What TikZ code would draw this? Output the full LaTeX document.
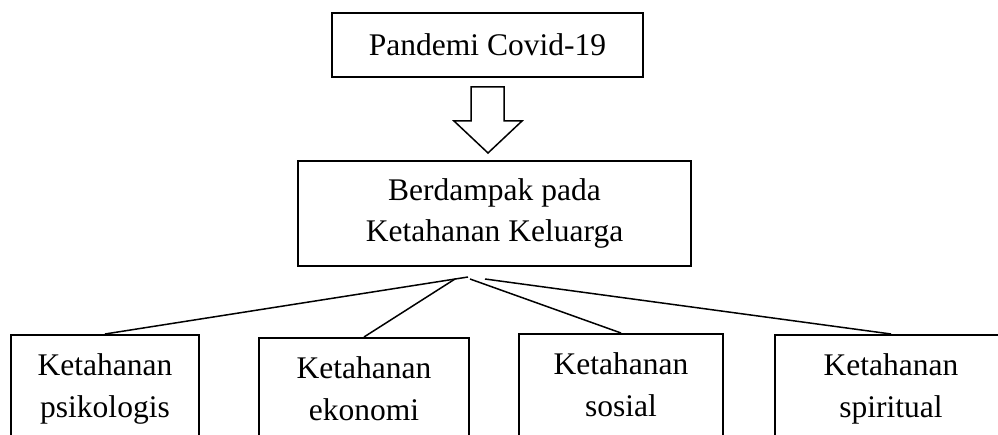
\documentclass[tikz,border=0pt]{standalone}
\usepackage{fontspec}
\setmainfont{Liberation Serif}
\usepackage{tikz}

\newcommand{\downstrut}{\rule[-40pt]{0pt}{40pt}}

\begin{document}
\begin{tikzpicture}[x=1pt, y=-1pt,
			box/.style={rectangle, draw, line width=1.7pt, inner sep=0pt,
					align=center, font=\fontsize{31.5}{41}\selectfont},
			subbox/.style={box, anchor=north, inner ysep=19pt,
					font=\fontsize{31.5}{42}\selectfont},
			link/.style={line width=1.5pt}
		]
		\useasboundingbox (0,0) rectangle (998,435);
		\clip (0,0) rectangle (998,435);

		% Top
		\node[box, minimum width=311pt, minimum height=64pt] (pandemi) at (487.5,45) {Pandemi Covid-19};
		\node[box, minimum width=393pt, minimum height=105pt] (dampak) at (494.5,213.5) {Berdampak pada\\Ketahanan Keluarga};

		% Block arrow
		\draw[line width=1.5pt, line join=miter] (471,87) -- (504,87) -- (504,121) -- (522,121)
			-- (488,153) -- (454,121) -- (471,121) -- cycle;

		% Aspects (boxes run past the lower edge)
		\node[subbox, minimum width=188pt] (psikologis) at (105,334) {Ketahanan\\psikologis\downstrut};
		\node[subbox, minimum width=210pt] (ekonomi) at (364,337) {Ketahanan\\ekonomi\downstrut};
		\node[subbox, minimum width=204pt] (sosial) at (621,333) {Ketahanan\\sosial\downstrut};
		\node[subbox, minimum width=232pt] (spiritual) at (891,334) {Ketahanan\\spiritual\downstrut};

		% Connections
		\coordinate (hubA) at (468,277);
		\coordinate (hubB) at (455,279);
		\coordinate (hubC) at (470,279);
		\coordinate (hubD) at (485,279);
		\draw[link] (hubA) -- (psikologis.north);
		\draw[link] (hubB) -- (ekonomi.north);
		\draw[link] (hubC) -- (sosial.north);
		\draw[link] (hubD) -- (spiritual.north);
	\end{tikzpicture}
\end{document}
